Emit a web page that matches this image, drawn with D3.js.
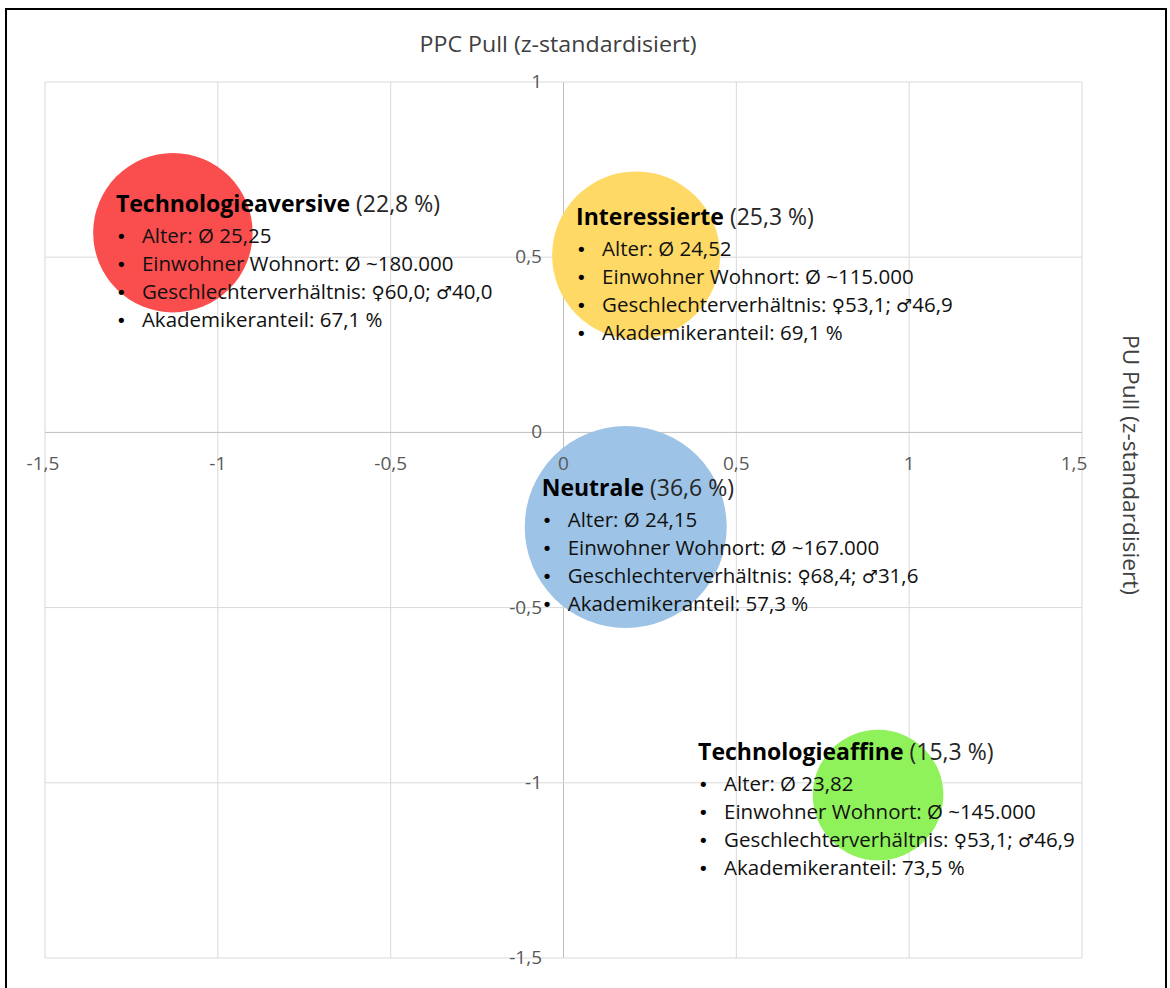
<!DOCTYPE html>
<html>
<head>
<meta charset="utf-8">
<script src="https://cdn.jsdelivr.net/npm/d3@7"></script>
<style>
  body { margin: 0; background: #fff; }
  svg text { font-family: "Open Sans", sans-serif; }
  .sym { font-family: "DejaVu Sans", sans-serif; }
</style>
</head>
<body>
<div id="chart"></div>
<script>
// cluster data
const clusters = ["Technologieaversive", "Interessierte", "Neutrale", "Technologieaffine"];
const ppcPull = [-1.13, 0.21, 0.18, 0.91];
const puPull = [0.57, 0.505, -0.27, -1.035];
const share = [22.8, 25.3, 36.6, 15.3];
const alter = ["25,25", "24,52", "24,15", "23,82"];
const einwohner = ["180.000", "115.000", "167.000", "145.000"];
const female = ["60,0", "53,1", "68,4", "53,1"];
const male = ["40,0", "46,9", "31,6", "46,9"];
const akademiker = ["67,1", "69,1", "57,3", "73,5"];

const xTicks = [-1.5, -1, -0.5, 0, 0.5, 1, 1.5];
const yTicks = [-1.5, -1, -0.5, 0, 0.5, 1];

const colors = ["#fa4d4d", "#ffd966", "#9dc3e6", "#8ff25a"];
// label offset from bubble centre (px)
const labelOff = [[-57, -21], [-60, -30], [-84, -31], [-180, -35]];

const w = 1170, h = 988;
const fmt = (v) => String(v).replace(".", ",");

const svg = d3.select("#chart").append("svg")
  .attr("width", w).attr("height", h);

// outer frame
svg.append("path")
  .attr("d", `M6,${h} V9 H1166 V${h}`)
  .attr("fill", "none").attr("stroke", "#000").attr("stroke-width", 2);

const xScale = d3.scaleLinear().domain([-1.5, 1.5]).range([45, 1082]);
const yScale = d3.scaleLinear().domain([-1.5, 1]).range([958, 82]);
const rScale = d3.scaleSqrt().domain([0, 36.6]).range([0, 101]);

// grid
svg.append("g").selectAll("line").data(xTicks).join("line")
  .attr("x1", d => xScale(d)).attr("x2", d => xScale(d))
  .attr("y1", yScale(1)).attr("y2", yScale(-1.5))
  .attr("stroke", d => d === 0 ? "#bfbfbf" : "#d9d9d9").attr("stroke-width", 1);
svg.append("g").selectAll("line").data(yTicks).join("line")
  .attr("y1", d => yScale(d)).attr("y2", d => yScale(d))
  .attr("x1", xScale(-1.5)).attr("x2", xScale(1.5))
  .attr("stroke", d => d === 0 ? "#bfbfbf" : "#d9d9d9").attr("stroke-width", 1);

// bubbles
svg.append("g").selectAll("circle").data(clusters).join("circle")
  .attr("cx", (d, i) => xScale(ppcPull[i]))
  .attr("cy", (d, i) => yScale(puPull[i]))
  .attr("r", (d, i) => rScale(share[i]))
  .attr("fill", (d, i) => colors[i]);

// tick labels
svg.append("g").selectAll("text").data(xTicks).join("text")
  .attr("x", d => xScale(d) + (d === -1.5 ? -2 : d === 1.5 ? -8 : 0))
  .attr("y", 470)
  .attr("text-anchor", "middle")
  .attr("font-size", 19).attr("fill", "#595959")
  .text(d => fmt(d));
svg.append("g").selectAll("text").data(yTicks).join("text")
  .attr("x", 542)
  .attr("y", d => yScale(d) + 6)
  .attr("text-anchor", "end")
  .attr("font-size", 19).attr("fill", "#595959")
  .text(d => fmt(d));

// axis titles
svg.append("text")
  .attr("x", 558).attr("y", 52)
  .attr("text-anchor", "middle")
  .attr("font-family", "'Liberation Sans', Arial, sans-serif")
  .attr("font-size", 21).attr("fill", "#404040")
  .attr("textLength", 277).attr("lengthAdjust", "spacingAndGlyphs")
  .text("PPC Pull (z-standardisiert)");
svg.append("text")
  .attr("transform", "translate(1123,465) rotate(90)")
  .attr("text-anchor", "middle")
  .attr("font-family", "'Liberation Sans', Arial, sans-serif")
  .attr("font-size", 21).attr("fill", "#404040")
  .attr("textLength", 260).attr("lengthAdjust", "spacingAndGlyphs")
  .text("PU Pull (z-standardisiert)");

// labels
clusters.forEach((name, i) => {
  const x0 = xScale(ppcPull[i]) + labelOff[i][0];
  const y0 = yScale(puPull[i]) + labelOff[i][1];
  const g = svg.append("g").attr("transform", `translate(${x0},${y0})`);
  const t = g.append("text").attr("font-size", 23).attr("fill", "#000");
  t.append("tspan").attr("font-weight", "bold").text(name);
  t.append("tspan").attr("fill", "#262626").text(" (" + fmt(share[i]) + " %)");
  const lines = [
    ["Alter: Ø " + alter[i]],
    ["Einwohner Wohnort: Ø ~" + einwohner[i]],
    ["Geschlechterverhältnis: ", "♀", female[i] + "; ", "♂", male[i]],
    ["Akademikeranteil: " + akademiker[i] + " %"]
  ];
  lines.forEach((parts, j) => {
    const yy = 31 + j * 28;
    g.append("text").attr("class", "sym").attr("x", 0).attr("y", yy)
      .attr("font-size", 18).attr("fill", "#000").text("•");
    const lt = g.append("text").attr("x", 26).attr("y", yy)
      .attr("font-size", 20.5).attr("fill", "#111");
    parts.forEach(p => {
      const sp = lt.append("tspan").text(p);
      if (p === "♀" || p === "♂") sp.attr("class", "sym").attr("font-size", 18);
    });
  });
});
</script>
</body>
</html>
